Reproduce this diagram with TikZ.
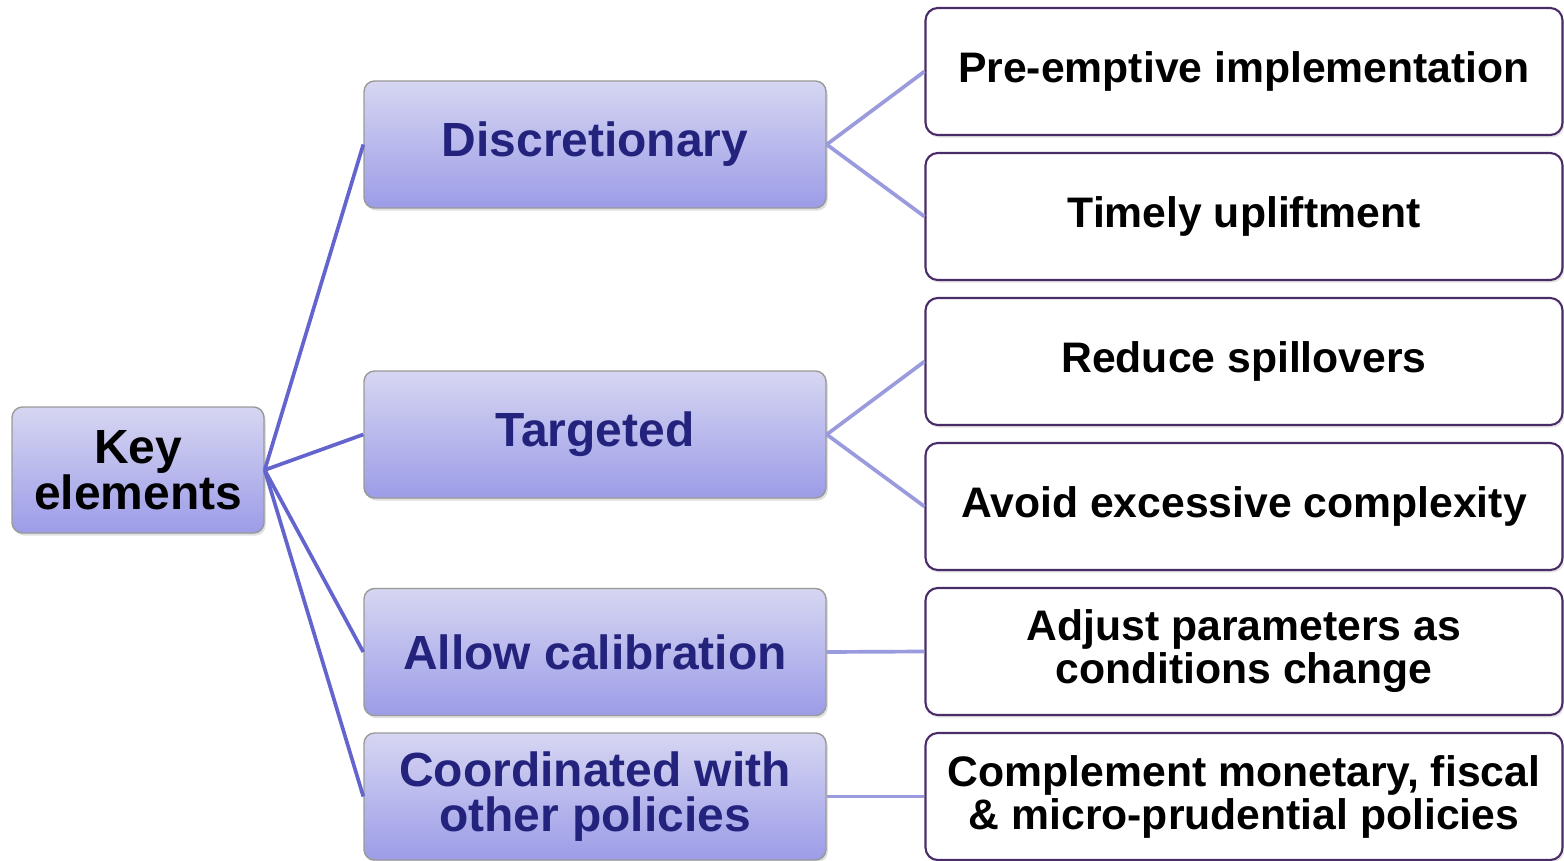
\documentclass[tikz,border=0pt]{standalone}
\usepackage{fontspec}
\setmainfont{Liberation Sans}
\usetikzlibrary{shadows}
\definecolor{boxtop}{HTML}{D6D6F2}
\definecolor{boxbot}{HTML}{9C9CE8}
\definecolor{midtext}{HTML}{23237E}
\definecolor{leftline}{HTML}{6464CE}
\definecolor{rightline}{HTML}{9A9ADE}
\definecolor{outline}{HTML}{4A2D68}
\begin{document}
\begin{tikzpicture}[
		x=0.02cm,
		y=-0.02cm,
		keybox/.style={
			draw=gray!80,
			line width=0.8pt,
			rounded corners=6pt,
			top color=boxtop,
			bottom color=boxbot,
			drop shadow={opacity=0.25,shadow xshift=1pt,shadow yshift=-1.5pt},
			align=center,
			font=\fontsize{27.3}{26}\selectfont\bfseries,
			inner sep=0pt
		},
		midbox/.style={
			keybox,
			minimum width=462*0.02cm,
			minimum height=127*0.02cm,
			text=midtext
		},
		detailbox/.style={
			draw=outline,
			line width=1.2pt,
			rounded corners=7pt,
			fill=white,
			drop shadow={opacity=0.2,shadow xshift=1pt,shadow yshift=-1.5pt},
			minimum width=637*0.02cm,
			minimum height=127*0.02cm,
			align=center,
			inner sep=0pt,
			font=\fontsize{24.3}{24.5}\selectfont\bfseries
		},
		branch/.style={
			leftline,
			line width=2.1pt
		},
		leaf/.style={
			rightline,
			line width=2.1pt
		}
		]
		\useasboundingbox (0,0) rectangle (1564,861);
		
		\node[keybox,minimum width=252*0.02cm,minimum height=126*0.02cm] (KEY) at (138,470) {Key\\elements};
		
		\node[midbox] (DISC)  at (595,144.5) {Discretionary};
		\node[midbox] (TARG)  at (595,434.5) {Targeted};
		\node[midbox] (CALIB) at (595,652) {Allow calibration};
		\node[midbox] (COORD) at (595,796.5) {Coordinated with\\other policies};
		
		\node[detailbox] (PRE)    at (1244,71.5)  {Pre-emptive implementation};
		\node[detailbox] (UPLIFT) at (1244,216.5) {Timely upliftment};
		\node[detailbox] (SPILL)  at (1244,361.5) {Reduce spillovers};
		\node[detailbox] (AVOID)  at (1244,506.5) {Avoid excessive complexity};
		\node[detailbox] (ADJUST) at (1244,651.5) {Adjust parameters as\\conditions change};
		\node[detailbox] (COMPL)  at (1244,796.5) {Complement monetary, fiscal\\\& micro-prudential policies};
		
		\draw[branch] (KEY.east) -- (DISC.west);
		\draw[branch] (KEY.east) -- (TARG.west);
		\draw[branch] (KEY.east) -- (CALIB.west);
		\draw[branch] (KEY.east) -- (COORD.west);
		
		\draw[leaf] (DISC.east) -- (PRE.west);
		\draw[leaf] (DISC.east) -- (UPLIFT.west);
		\draw[leaf] (TARG.east) -- (SPILL.west);
		\draw[leaf] (TARG.east) -- (AVOID.west);
		\draw[leaf] (CALIB.east) -- (ADJUST.west);
		\draw[leaf] (COORD.east) -- (COMPL.west);
		\end{tikzpicture}
\end{document}
